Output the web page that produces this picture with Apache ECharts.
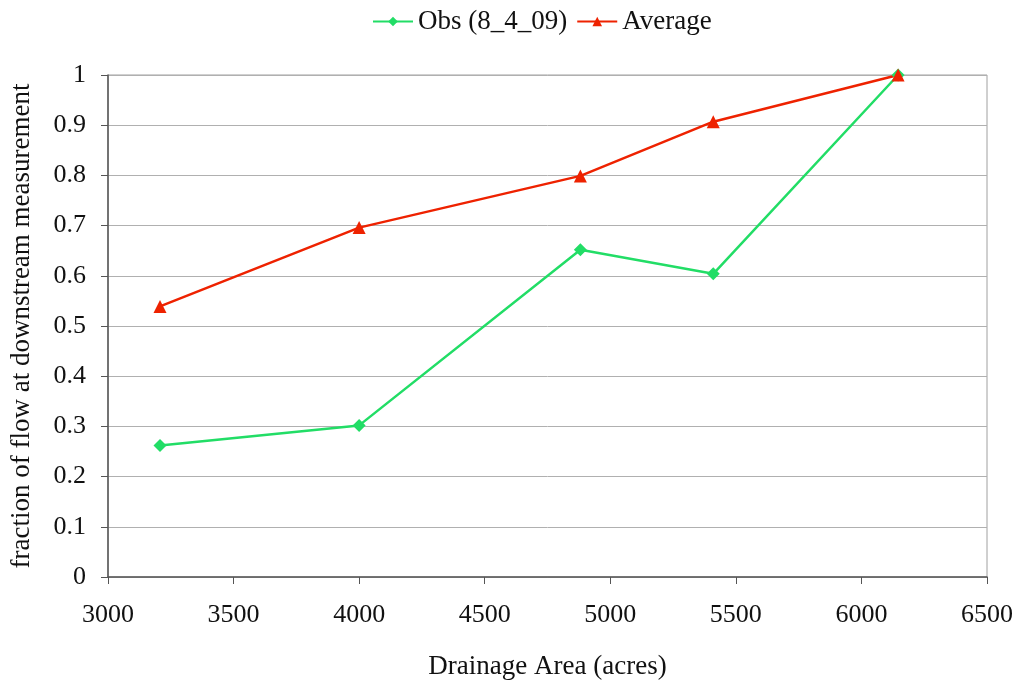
<!DOCTYPE html>
<html><head><meta charset="utf-8">
<script src="https://cdn.jsdelivr.net/npm/echarts@6/dist/echarts.min.js"></script>
<style>html,body{margin:0;padding:0;background:#fff}#c{width:1018px;height:685px}</style>
</head><body><div id="c"></div>
<script>
const areas = [3207, 4000, 4881, 5410, 6146];
const obsValues = [0.262, 0.302, 0.652, 0.604, 1.0];
const avgValues = [0.539, 0.696, 0.799, 0.907, 1.0];
const seriesNames = ['Obs (8_4_09)', 'Average'];
const xTitle = 'Drainage Area (acres)';
const yTitle = 'fraction of flow at downstream measurement';

const font = 'Liberation Serif';
const chart = echarts.init(document.getElementById('c'));
chart.setOption({
  animation: false,
  textStyle: { fontFamily: font },
  legend: {
    top: 3, left: 367, itemGap: 9, itemWidth: 40, itemHeight: 12,
    textStyle: { fontFamily: font, fontSize: 27, color: '#111' },
    data: seriesNames
  },
  grid: { left: 107, right: 31, top: 75, bottom: 107, show: true, borderColor: '#a0a0a0', borderWidth: 1 },
  xAxis: {
    type: 'value', min: 3000, max: 6500, interval: 500,
    name: xTitle, nameLocation: 'middle', nameGap: 76,
    nameTextStyle: { fontFamily: font, fontSize: 27, color: '#111' },
    axisLine: { show: true, onZero: false, lineStyle: { color: '#555', width: 1.5 } },
    axisTick: { show: true, length: 7, lineStyle: { color: '#555' } },
    axisLabel: { fontFamily: font, fontSize: 26, color: '#111', margin: 25, formatter: v => String(v) },
    splitLine: { show: false }
  },
  yAxis: {
    type: 'value', min: 0, max: 1, interval: 0.1,
    name: yTitle, nameLocation: 'middle', nameGap: 73,
    nameTextStyle: { fontFamily: font, fontSize: 27, color: '#111' },
    axisLine: { show: true, lineStyle: { color: '#555', width: 1.5 } },
    axisTick: { show: true, length: 7, lineStyle: { color: '#555' } },
    axisLabel: { fontFamily: font, fontSize: 26, color: '#111', margin: 22 },
    splitLine: { show: true, lineStyle: { color: '#b0b0b0', width: 1 } }
  },
  series: [
    {
      name: seriesNames[0], type: 'line',
      data: areas.map((x, i) => [x, obsValues[i]]),
      symbol: 'diamond', symbolSize: 13,
      lineStyle: { color: '#22dd66', width: 2.5 },
      itemStyle: { color: '#22dd66' }
    },
    {
      name: seriesNames[1], type: 'line',
      data: areas.map((x, i) => [x, avgValues[i]]),
      symbol: 'triangle', symbolSize: 13,
      lineStyle: { color: '#ee2200', width: 2.5 },
      itemStyle: { color: '#ee2200' }
    }
  ]
});
</script>
</body></html>
